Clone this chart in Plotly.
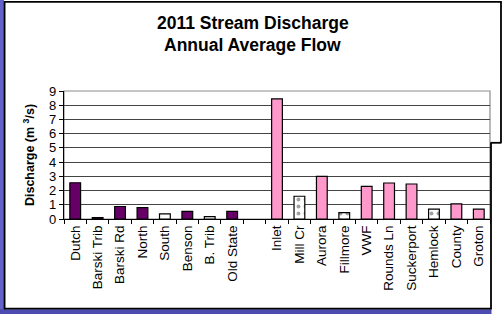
import plotly.graph_objects as go

categories = ["Dutch", "Barski Trib", "Barski Rd", "North", "South", "Benson",
              "B. Trib", "Old State", " ", "Inlet", "Mill Cr", "Aurora",
              "Fillmore", "VWF", "Rounds Ln", "Suckerport", "Hemlock",
              "County", "Groton"]
discharge = [2.55, 0.1, 0.88, 0.8, 0.36, 0.53, 0.17, 0.53, None, 8.45, 1.6,
             3.0, 0.45, 2.3, 2.53, 2.46, 0.7, 1.07, 0.7]
fill_colors = ["#660066", "#660066", "#660066", "#660066", "#FFFFFF", "#660066",
               "#FFFFFF", "#660066", "#FFFFFF", "#FF99CC", "#FFFFFF", "#FF99CC",
               "#FFFFFF", "#FF99CC", "#FF99CC", "#FF99CC", "#FFFFFF",
               "#FF99CC", "#FF99CC"]
patterns = ["", "", "", "", "", "", "", "", "", "", ".", "", ".", "", "", "",
            ".", "", ""]
title_lines = ["2011 Stream Discharge", "Annual Average Flow"]

W, H = 503, 314
L, R, T, B = 64, 490.5, 91, 219.5

def px(x):
    return (x - L) / (R - L)

def py(y):
    return (B - y) / (B - T)

fig = go.Figure()
fig.add_trace(go.Bar(
    x=categories, y=discharge, width=0.48,
    marker=dict(color=fill_colors, line=dict(color="black", width=1.2),
                pattern=dict(shape=patterns, fgcolor="#FF99CC", bgcolor="white",
                             size=7, solidity=0.25)),
    showlegend=False,
))

shapes = []
# blue slide background strips
shapes.append(dict(type="rect", xref="paper", yref="paper", x0=px(-2), x1=px(4),
                   y0=py(-2), y1=py(316), fillcolor="#6262C8", line_width=0, layer="below"))
shapes.append(dict(type="rect", xref="paper", yref="paper", x0=px(-2), x1=px(492),
                   y0=py(310), y1=py(316), fillcolor="#4B4BB0", line_width=0, layer="below"))
# plot area grey border
shapes.append(dict(type="rect", xref="paper", yref="paper", x0=0, x1=1, y0=0, y1=1,
                   line=dict(color="#8C8C8C", width=1.2), layer="below"))
# chart frame lines
frame = [((4.5, 1), (4.5, 310)), ((4, 1.5), (502, 1.5)), ((501.5, 1), (501.5, 143)),
         ((491, 143), (502, 143)), ((491.5, 143), (491.5, 310)), ((4, 309.5), (492, 309.5))]
for (x0, y0), (x1, y1) in frame:
    shapes.append(dict(type="line", xref="paper", yref="paper", x0=px(x0), y0=py(y0),
                       x1=px(x1), y1=py(y1), line=dict(color="black", width=1.8)))

annotations = []
for text, ypix in zip(title_lines, [23, 45]):
    annotations.append(dict(text="<b>" + text + "</b>", xref="paper", yref="paper",
                            x=px(253), y=py(ypix), xanchor="center", yanchor="middle",
                            showarrow=False,
                            font=dict(size=17.5, family="Liberation Sans, Arial",
                                      color="black")))

fig.update_layout(
    width=W, height=H, autosize=False,
    margin=dict(l=L, r=W - R, t=T, b=H - B),
    paper_bgcolor="white", plot_bgcolor="white",
    font=dict(family="Liberation Sans, Arial", color="black"),
    bargap=0.52,
    shapes=shapes,
    annotations=annotations,
)
fig.update_xaxes(
    type="category", showline=True, linecolor="black", linewidth=1.2,
    ticks="outside", tickson="boundaries", ticklen=4, tickcolor="black",
    tickangle=-90, tickfont=dict(size=13.5), showgrid=False,
)
fig.update_yaxes(
    range=[0, 9], dtick=1, showline=True, linecolor="black", linewidth=1.2,
    ticks="outside", ticklen=4, tickcolor="black", tickfont=dict(size=13),
    showgrid=True, gridcolor="#444444", gridwidth=1, zeroline=False,
    title=dict(text="<b>Discharge (m <sup>3</sup>/s)</b>", font=dict(size=12.5),
               standoff=11),
)

fig.write_html("out.html", config={"displayModeBar": False},
               post_script="document.body.style.margin='0';document.body.style.overflow='hidden';")
